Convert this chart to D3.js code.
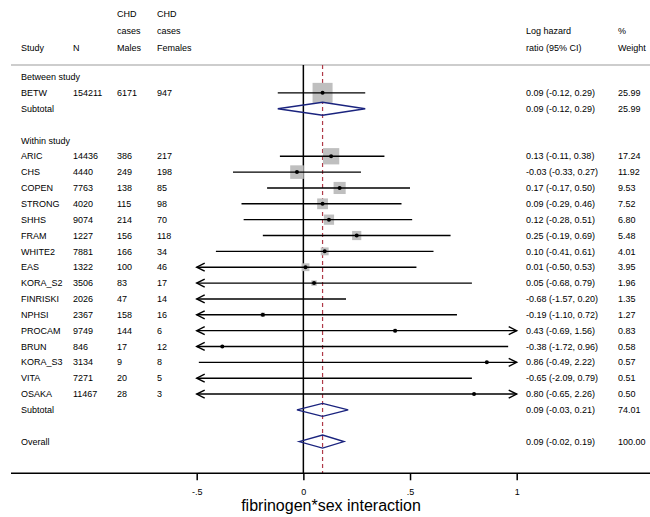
<!DOCTYPE html>
<html>
<head>
<meta charset="utf-8">
<script src="https://cdn.jsdelivr.net/npm/d3@7"></script>
<style>
    body { margin: 0; background: #fff; }
    svg { display: block; font-family: "Liberation Sans", Arial, sans-serif; }
    .cell { font-size: 9px; fill: #000; }
    .tick text { font-size: 9px; }
</style>
</head>
<body>
<script>
    // study level estimates
    var study = ["BETW", "ARIC", "CHS", "COPEN", "STRONG", "SHHS", "FRAM", "WHITE2", "EAS", "KORA_S2",
        "FINRISKI", "NPHSI", "PROCAM", "BRUN", "KORA_S3", "VITA", "OSAKA"];
    var group = ["between", "within", "within", "within", "within", "within", "within", "within", "within", "within",
        "within", "within", "within", "within", "within", "within", "within"];
    var nTotal = [154211, 14436, 4440, 7763, 4020, 9074, 1227, 7881, 1322, 3506, 2026, 2367, 9749, 846, 3134, 7271, 11467];
    var casesMales = [6171, 386, 249, 138, 115, 214, 156, 166, 100, 83, 47, 158, 144, 17, 9, 20, 28];
    var casesFemales = [947, 217, 198, 85, 98, 70, 118, 34, 46, 17, 14, 16, 6, 12, 8, 5, 3];
    var logHR = [0.09, 0.13, -0.03, 0.17, 0.09, 0.12, 0.25, 0.10, 0.01, 0.05, -0.68, -0.19, 0.43, -0.38, 0.86, -0.65, 0.80];
    var ciLow = [-0.12, -0.11, -0.33, -0.17, -0.29, -0.28, -0.19, -0.41, -0.50, -0.68, -1.57, -1.10, -0.69, -1.72, -0.49, -2.09, -0.65];
    var ciHigh = [0.29, 0.38, 0.27, 0.50, 0.46, 0.51, 0.69, 0.61, 0.53, 0.79, 0.20, 0.72, 1.56, 0.96, 2.22, 0.79, 2.26];
    var weight = [25.99, 17.24, 11.92, 9.53, 7.52, 6.80, 5.48, 4.01, 3.95, 1.96, 1.35, 1.27, 0.83, 0.58, 0.57, 0.51, 0.50];

    // pooled estimates
    var pooledLabel = ["Subtotal", "Subtotal", "Overall"];
    var pooledEst = [0.09, 0.09, 0.09];
    var pooledLow = [-0.12, -0.03, -0.02];
    var pooledHigh = [0.29, 0.21, 0.19];
    var pooledWeight = [25.99, 74.01, 100.00];

    var groupTitles = ["Between study", "Within study"];
    var tickValues = [-0.5, 0, 0.5, 1];
    var tickLabels = ["-.5", "0", ".5", "1"];

    var width = 650, height = 517;

    var svg = d3.select("body").append("svg")
        .attr("width", width)
        .attr("height", height);

    // build row list in display order
    var rows = [];
    rows.push({ type: "title", label: groupTitles[0] });
    study.forEach(function (s, i) {
        if (group[i] == "between") rows.push({ type: "study", i: i });
    });
    rows.push({ type: "pooled", i: 0 });
    rows.push({ type: "blank" });
    rows.push({ type: "title", label: groupTitles[1] });
    study.forEach(function (s, i) {
        if (group[i] == "within") rows.push({ type: "study", i: i });
    });
    rows.push({ type: "pooled", i: 1 });
    rows.push({ type: "blank" });
    rows.push({ type: "pooled", i: 2 });
    rows.forEach(function (r, k) { r.row = k; });

    var x = d3.scaleLinear().domain([-0.5, 1]).range([196.7, 516.7]);
    var y = d3.scaleLinear().domain([0, rows.length - 1]).range([77, 441.6]);
    var boxSide = d3.scaleSqrt().domain([0, 25.99]).range([0, 20]);

    var plotTop = 65, axisY = 473.3;
    var colX = { study: 21, n: 73, males: 117, females: 157, ci: 526, wt: 618 };

    // header
    var header = [
        { x: colX.males, y: 14, t: "CHD" }, { x: colX.females, y: 14, t: "CHD" },
        { x: colX.males, y: 31, t: "cases" }, { x: colX.females, y: 31, t: "cases" },
        { x: colX.ci, y: 31, t: "Log hazard" }, { x: colX.wt, y: 31, t: "%" },
        { x: colX.study, y: 48, t: "Study" }, { x: colX.n, y: 48, t: "N" },
        { x: colX.males, y: 48, t: "Males" }, { x: colX.females, y: 48, t: "Females" },
        { x: colX.ci, y: 48, t: "ratio (95% CI)" }, { x: colX.wt, y: 48, t: "Weight" }
    ];
    svg.selectAll(".hdr").data(header).enter().append("text")
        .attr("class", "cell")
        .attr("x", function (d) { return d.x; })
        .attr("y", function (d) { return d.y; })
        .attr("dy", "0.35em")
        .text(function (d) { return d.t; });

    svg.append("line")
        .attr("x1", 11).attr("x2", width)
        .attr("y1", plotTop).attr("y2", plotTop)
        .attr("stroke", "#bdbdbd").attr("stroke-width", 1.5);

    // reference lines
    svg.append("line")
        .attr("x1", x(0)).attr("x2", x(0))
        .attr("y1", plotTop).attr("y2", axisY)
        .attr("stroke", "#000").attr("stroke-width", 1.5);
    svg.append("line")
        .attr("x1", x(pooledEst[2])).attr("x2", x(pooledEst[2]))
        .attr("y1", plotTop).attr("y2", axisY)
        .attr("stroke", "#b03a48").attr("stroke-width", 1.2)
        .attr("stroke-dasharray", "4,3");

    function fmt(v) { return v.toFixed(2); }
    function ciText(e, l, h) { return fmt(e) + " (" + fmt(l) + ", " + fmt(h) + ")"; }

    var studyRows = rows.filter(function (r) { return r.type == "study"; });
    var pooledRows = rows.filter(function (r) { return r.type == "pooled"; });
    var titleRows = rows.filter(function (r) { return r.type == "title"; });

    svg.selectAll(".title").data(titleRows).enter().append("text")
        .attr("class", "cell")
        .attr("x", colX.study).attr("y", function (d) { return y(d.row); })
        .attr("dy", "0.35em")
        .text(function (d) { return d.label; });

    // table cells for studies
    var cols = [
        { x: colX.study, f: function (i) { return study[i]; } },
        { x: colX.n, f: function (i) { return nTotal[i]; } },
        { x: colX.males, f: function (i) { return casesMales[i]; } },
        { x: colX.females, f: function (i) { return casesFemales[i]; } },
        { x: colX.ci, f: function (i) { return ciText(logHR[i], ciLow[i], ciHigh[i]); } },
        { x: colX.wt, f: function (i) { return fmt(weight[i]); } }
    ];
    cols.forEach(function (c) {
        svg.append("g").selectAll("text").data(studyRows).enter().append("text")
            .attr("class", "cell")
            .attr("x", c.x).attr("y", function (d) { return y(d.row); })
            .attr("dy", "0.35em")
            .text(function (d) { return c.f(d.i); });
    });

    // pooled table cells
    svg.append("g").selectAll("text").data(pooledRows).enter().append("text")
        .attr("class", "cell")
        .attr("x", colX.study).attr("y", function (d) { return y(d.row); })
        .attr("dy", "0.35em")
        .text(function (d) { return pooledLabel[d.i]; });
    svg.append("g").selectAll("text").data(pooledRows).enter().append("text")
        .attr("class", "cell")
        .attr("x", colX.ci).attr("y", function (d) { return y(d.row); })
        .attr("dy", "0.35em")
        .text(function (d) { return ciText(pooledEst[d.i], pooledLow[d.i], pooledHigh[d.i]); });
    svg.append("g").selectAll("text").data(pooledRows).enter().append("text")
        .attr("class", "cell")
        .attr("x", colX.wt).attr("y", function (d) { return y(d.row); })
        .attr("dy", "0.35em")
        .text(function (d) { return fmt(pooledWeight[d.i]); });

    var lo = x.domain()[0], hi = x.domain()[1];
    var inRange = studyRows.filter(function (d) { return logHR[d.i] >= lo && logHR[d.i] <= hi; });

    // weight boxes
    svg.append("g").selectAll("rect").data(inRange).enter().append("rect")
        .attr("x", function (d) { return x(logHR[d.i]) - boxSide(weight[d.i]) / 2; })
        .attr("y", function (d) { return y(d.row) - boxSide(weight[d.i]) / 2; })
        .attr("width", function (d) { return boxSide(weight[d.i]); })
        .attr("height", function (d) { return boxSide(weight[d.i]); })
        .attr("fill", "#bfbfbf");

    // confidence intervals, clipped to the axis range
    svg.append("g").selectAll("line").data(studyRows).enter().append("line")
        .attr("x1", function (d) { return x(Math.max(ciLow[d.i], lo)); })
        .attr("x2", function (d) { return x(Math.min(ciHigh[d.i], hi)); })
        .attr("y1", function (d) { return y(d.row); })
        .attr("y2", function (d) { return y(d.row); })
        .attr("stroke", "#000").attr("stroke-width", 1.4);

    var leftArrows = studyRows.filter(function (d) { return ciLow[d.i] <= lo; });
    var rightArrows = studyRows.filter(function (d) { return ciHigh[d.i] >= hi; });
    svg.append("g").selectAll("path").data(leftArrows).enter().append("path")
        .attr("d", function (d) {
            var ax = x(lo), ay = y(d.row);
            return "M" + (ax + 8) + "," + (ay - 4) + "L" + ax + "," + ay + "L" + (ax + 8) + "," + (ay + 4);
        })
        .attr("fill", "none").attr("stroke", "#000").attr("stroke-width", 1.4);
    svg.append("g").selectAll("path").data(rightArrows).enter().append("path")
        .attr("d", function (d) {
            var ax = x(hi), ay = y(d.row);
            return "M" + (ax - 8) + "," + (ay - 4) + "L" + ax + "," + ay + "L" + (ax - 8) + "," + (ay + 4);
        })
        .attr("fill", "none").attr("stroke", "#000").attr("stroke-width", 1.4);

    // point estimates
    svg.append("g").selectAll("circle").data(inRange).enter().append("circle")
        .attr("cx", function (d) { return x(logHR[d.i]); })
        .attr("cy", function (d) { return y(d.row); })
        .attr("r", 2)
        .attr("fill", "#000");

    // pooled diamonds
    svg.append("g").selectAll("path").data(pooledRows).enter().append("path")
        .attr("d", function (d) {
            var yy = y(d.row), h = 6.5;
            return "M" + x(pooledLow[d.i]) + "," + yy +
                "L" + x(pooledEst[d.i]) + "," + (yy - h) +
                "L" + x(pooledHigh[d.i]) + "," + yy +
                "L" + x(pooledEst[d.i]) + "," + (yy + h) + "Z";
        })
        .attr("fill", "none").attr("stroke", "#1a237e").attr("stroke-width", 1.4);

    // x axis
    svg.append("line")
        .attr("x1", 11).attr("x2", width)
        .attr("y1", axisY).attr("y2", axisY)
        .attr("stroke", "#000").attr("stroke-width", 1.5);

    var axis = d3.axisBottom(x)
        .tickValues(tickValues)
        .tickFormat(function (d, i) { return tickLabels[i]; })
        .tickSize(7)
        .tickPadding(8)
        .tickSizeOuter(0);

    var gAxis = svg.append("g")
        .attr("transform", "translate(0," + axisY + ")")
        .call(axis);
    gAxis.select(".domain").remove();
    gAxis.selectAll(".tick line").attr("stroke-width", 1.5);
    gAxis.selectAll(".tick text").attr("font-family", "Liberation Sans, Arial, sans-serif");

    svg.append("text")
        .attr("x", 331).attr("y", 505.5)
        .attr("dy", "0.35em")
        .attr("text-anchor", "middle")
        .attr("font-size", "16px")
        .text("fibrinogen*sex interaction");
</script>
</body>
</html>
